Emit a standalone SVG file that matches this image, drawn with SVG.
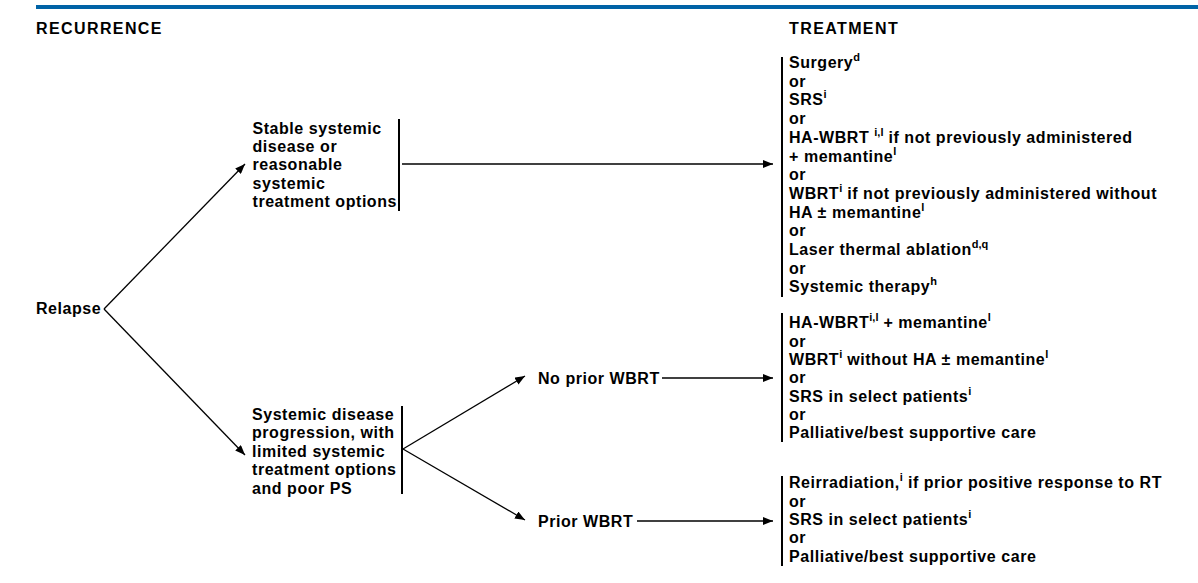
<svg xmlns="http://www.w3.org/2000/svg" width="1198" height="583" viewBox="0 0 1198 583">
<style>
text{font-family:"Liberation Sans",Arial,sans-serif;font-weight:bold;font-size:16px;fill:#000;letter-spacing:0.55px}
.hdr{letter-spacing:1.4px}
.sup{font-size:11px;letter-spacing:0}
.ln{stroke:#000;stroke-width:1.3;fill:none}
.bar{stroke:#000;stroke-width:2;fill:none}
</style>
<defs>
<marker id="ah" viewBox="0 0 10 8" refX="10" refY="4" markerWidth="10" markerHeight="8" markerUnits="userSpaceOnUse" orient="auto">
<path d="M0,0 L10,4 L0,8 Z" fill="#000"/>
</marker>
</defs>
<rect x="36" y="5" width="1162" height="4" fill="#0063a6"/>
<text class="hdr" x="36" y="34">RECURRENCE</text>
<text class="hdr" x="789" y="34">TREATMENT</text>

<g id="connectors">
<line class="ln" x1="104" y1="309" x2="245" y2="164" marker-end="url(#ah)"/>
<line class="ln" x1="104" y1="309" x2="245" y2="455" marker-end="url(#ah)"/>
<line class="ln" x1="402" y1="164" x2="773" y2="164" marker-end="url(#ah)"/>
<line class="ln" x1="403" y1="449" x2="525" y2="376" marker-end="url(#ah)"/>
<line class="ln" x1="403" y1="449" x2="525" y2="520" marker-end="url(#ah)"/>
<line class="ln" x1="662" y1="378" x2="773" y2="378" marker-end="url(#ah)"/>
<line class="ln" x1="637" y1="521" x2="773" y2="521" marker-end="url(#ah)"/>
</g>

<g id="relapse">
<text x="36" y="313.5">Relapse</text>
</g>

<g id="stable">
<text x="252.5" y="133.5">Stable systemic</text>
<text x="252.5" y="151.9">disease or</text>
<text x="252.5" y="170.3">reasonable</text>
<text x="252.5" y="188.7">systemic</text>
<text x="252.5" y="207.1">treatment options</text>
<line class="bar" x1="399" y1="119" x2="399" y2="211"/>
</g>

<g id="progression">
<text x="252" y="420">Systemic disease</text>
<text x="252" y="438.4">progression, with</text>
<text x="252" y="456.8">limited systemic</text>
<text x="252" y="475.2">treatment options</text>
<text x="252" y="493.6">and poor PS</text>
<line class="bar" x1="402" y1="406" x2="402" y2="494"/>
</g>

<g id="no-prior">
<text x="538" y="383.5">No prior WBRT</text>
</g>

<g id="prior">
<text x="538" y="526.5">Prior WBRT</text>
</g>

<g id="treatment-stable">
<line class="bar" x1="782" y1="57" x2="782" y2="297"/>
<text x="789" y="68">Surgery<tspan class="sup" dy="-7">d</tspan></text>
<text x="789" y="86.7">or</text>
<text x="789" y="105.4">SRS<tspan class="sup" dy="-7">i</tspan></text>
<text x="789" y="124.1">or</text>
<text x="789" y="142.8">HA-WBRT <tspan class="sup" dy="-7">i,l</tspan><tspan dy="7"> if not previously administered</tspan></text>
<text x="789" y="161.5">+ memantine<tspan class="sup" dy="-7">l</tspan></text>
<text x="789" y="180.2">or</text>
<text x="789" y="198.9">WBRT<tspan class="sup" dy="-7">i</tspan><tspan dy="7"> if not previously administered without</tspan></text>
<text x="789" y="217.6">HA ± memantine<tspan class="sup" dy="-7">l</tspan></text>
<text x="789" y="236.3">or</text>
<text x="789" y="255">Laser thermal ablation<tspan class="sup" dy="-7">d,q</tspan></text>
<text x="789" y="273.7">or</text>
<text x="789" y="292.4">Systemic therapy<tspan class="sup" dy="-7">h</tspan></text>
</g>

<g id="treatment-no-prior">
<line class="bar" x1="782" y1="313" x2="782" y2="442"/>
<text x="789" y="328.3">HA-WBRT<tspan class="sup" dy="-7">i,l</tspan><tspan dy="7"> + memantine</tspan><tspan class="sup" dy="-7">l</tspan></text>
<text x="789" y="346.7">or</text>
<text x="789" y="365">WBRT<tspan class="sup" dy="-7">i</tspan><tspan dy="7"> without HA ± memantine</tspan><tspan class="sup" dy="-7">l</tspan></text>
<text x="789" y="383.4">or</text>
<text x="789" y="401.7">SRS in select patients<tspan class="sup" dy="-7">i</tspan></text>
<text x="789" y="420">or</text>
<text x="789" y="438.4">Palliative/best supportive care</text>
</g>

<g id="treatment-prior">
<line class="bar" x1="782" y1="476" x2="782" y2="566"/>
<text x="789" y="488.3">Reirradiation,<tspan class="sup" dy="-7">i</tspan><tspan dy="7"> if prior positive response to RT</tspan></text>
<text x="789" y="506.7">or</text>
<text x="789" y="525">SRS in select patients<tspan class="sup" dy="-7">i</tspan></text>
<text x="789" y="543.4">or</text>
<text x="789" y="561.7">Palliative/best supportive care</text>
</g>
</svg>
